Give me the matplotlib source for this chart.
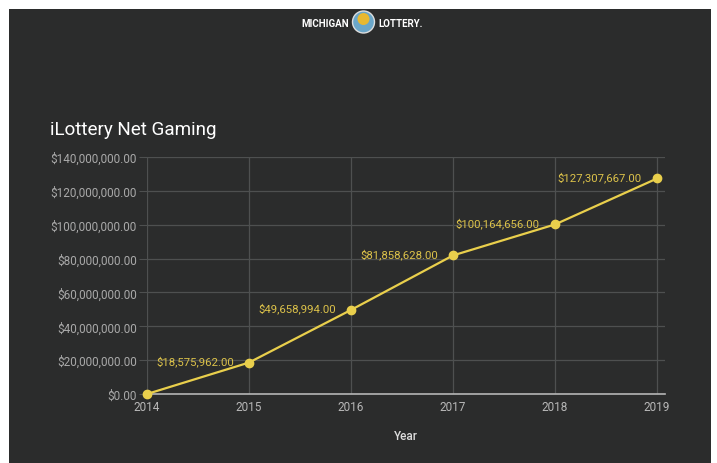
import matplotlib.pyplot as plt
from matplotlib.patches import Rectangle, Ellipse
from matplotlib.ticker import FuncFormatter

# Data
years = [2014, 2015, 2016, 2017, 2018, 2019]
net_gaming = [0, 18575962.00, 49658994.00, 81858628.00, 100164656.00, 127307667.00]
y_ticks = [0, 20e6, 40e6, 60e6, 80e6, 100e6, 120e6, 140e6]

bg = "#2b2c2c"
yellow = "#e9cf4c"
plt.rcParams["font.family"] = ["Roboto", "DejaVu Sans"]

fig = plt.figure(figsize=(7.17, 4.64), dpi=100, facecolor="white")

# Dark panel (white border at top and left)
fig.patches.append(Rectangle((9 / 717, -0.05), 702 / 717, 454 / 464 + 0.05,
                             transform=fig.transFigure, facecolor=bg,
                             edgecolor="none", zorder=-10))

ax = fig.add_axes([147 / 717, 69 / 464, 518 / 717, 237 / 464])
ax.set_facecolor(bg)

ax.plot(years, net_gaming, color=yellow, linewidth=1.6, marker="o",
        markersize=6, zorder=3, clip_on=False)

# Value labels to the left of each point
for x, y in zip(years[1:], net_gaming[1:]):
    ax.annotate(f"${y:,.2f}", (x, y), xytext=(-11, 1.5), textcoords="offset points",
                ha="right", va="center", color="#dcc24a", fontsize=8.2)

ax.set_xlim(2014, 2019.078)
ax.set_ylim(0, 140e6)
ax.set_xticks(years)
ax.set_yticks(y_ticks)
ax.yaxis.set_major_formatter(FuncFormatter(lambda v, p: f"${v:,.2f}"))

ax.grid(True, color="#4e5050", linewidth=0.9)
ax.set_axisbelow(True)
for s in ["top", "right", "left"]:
    ax.spines[s].set_visible(False)
ax.spines["bottom"].set_color("#b5b5b5")
ax.spines["bottom"].set_linewidth(1.2)

ax.tick_params(axis="y", length=6, color="#4e5050", labelcolor="#a9a9a9",
               labelsize=8.5, pad=1.5)
ax.tick_params(axis="x", length=0, labelcolor="#b8b8b8", labelsize=8.5, pad=4)

ax.set_xlabel("Year", color="#dddddd", fontsize=8.5, fontweight="medium",
              labelpad=12)

fig.text(50 / 717, 1 - 130 / 464, "iLottery Net Gaming", color="white",
         fontsize=13.6, va="center", ha="left")

# Header logo
fig.text(349 / 717, 1 - 24 / 464, "MICHIGAN", color="white", fontsize=7,
         fontweight="bold", ha="right", va="center")
fig.text(378 / 717, 1 - 24 / 464, "LOTTERY.", color="white", fontsize=7,
         fontweight="bold", ha="left", va="center")
fig.patches.append(Ellipse((363.5 / 717, 1 - 23 / 464), 22 / 717, 22 / 464,
                           transform=fig.transFigure, facecolor="#6aa6c8",
                           edgecolor="#dddddd", linewidth=1, zorder=2))
fig.patches.append(Ellipse((363.5 / 717, 1 - 20 / 464), 12 / 717, 12 / 464,
                           transform=fig.transFigure, facecolor="#e8b830",
                           edgecolor="none", zorder=3))

fig.savefig("out.png", dpi=100, facecolor="white")
